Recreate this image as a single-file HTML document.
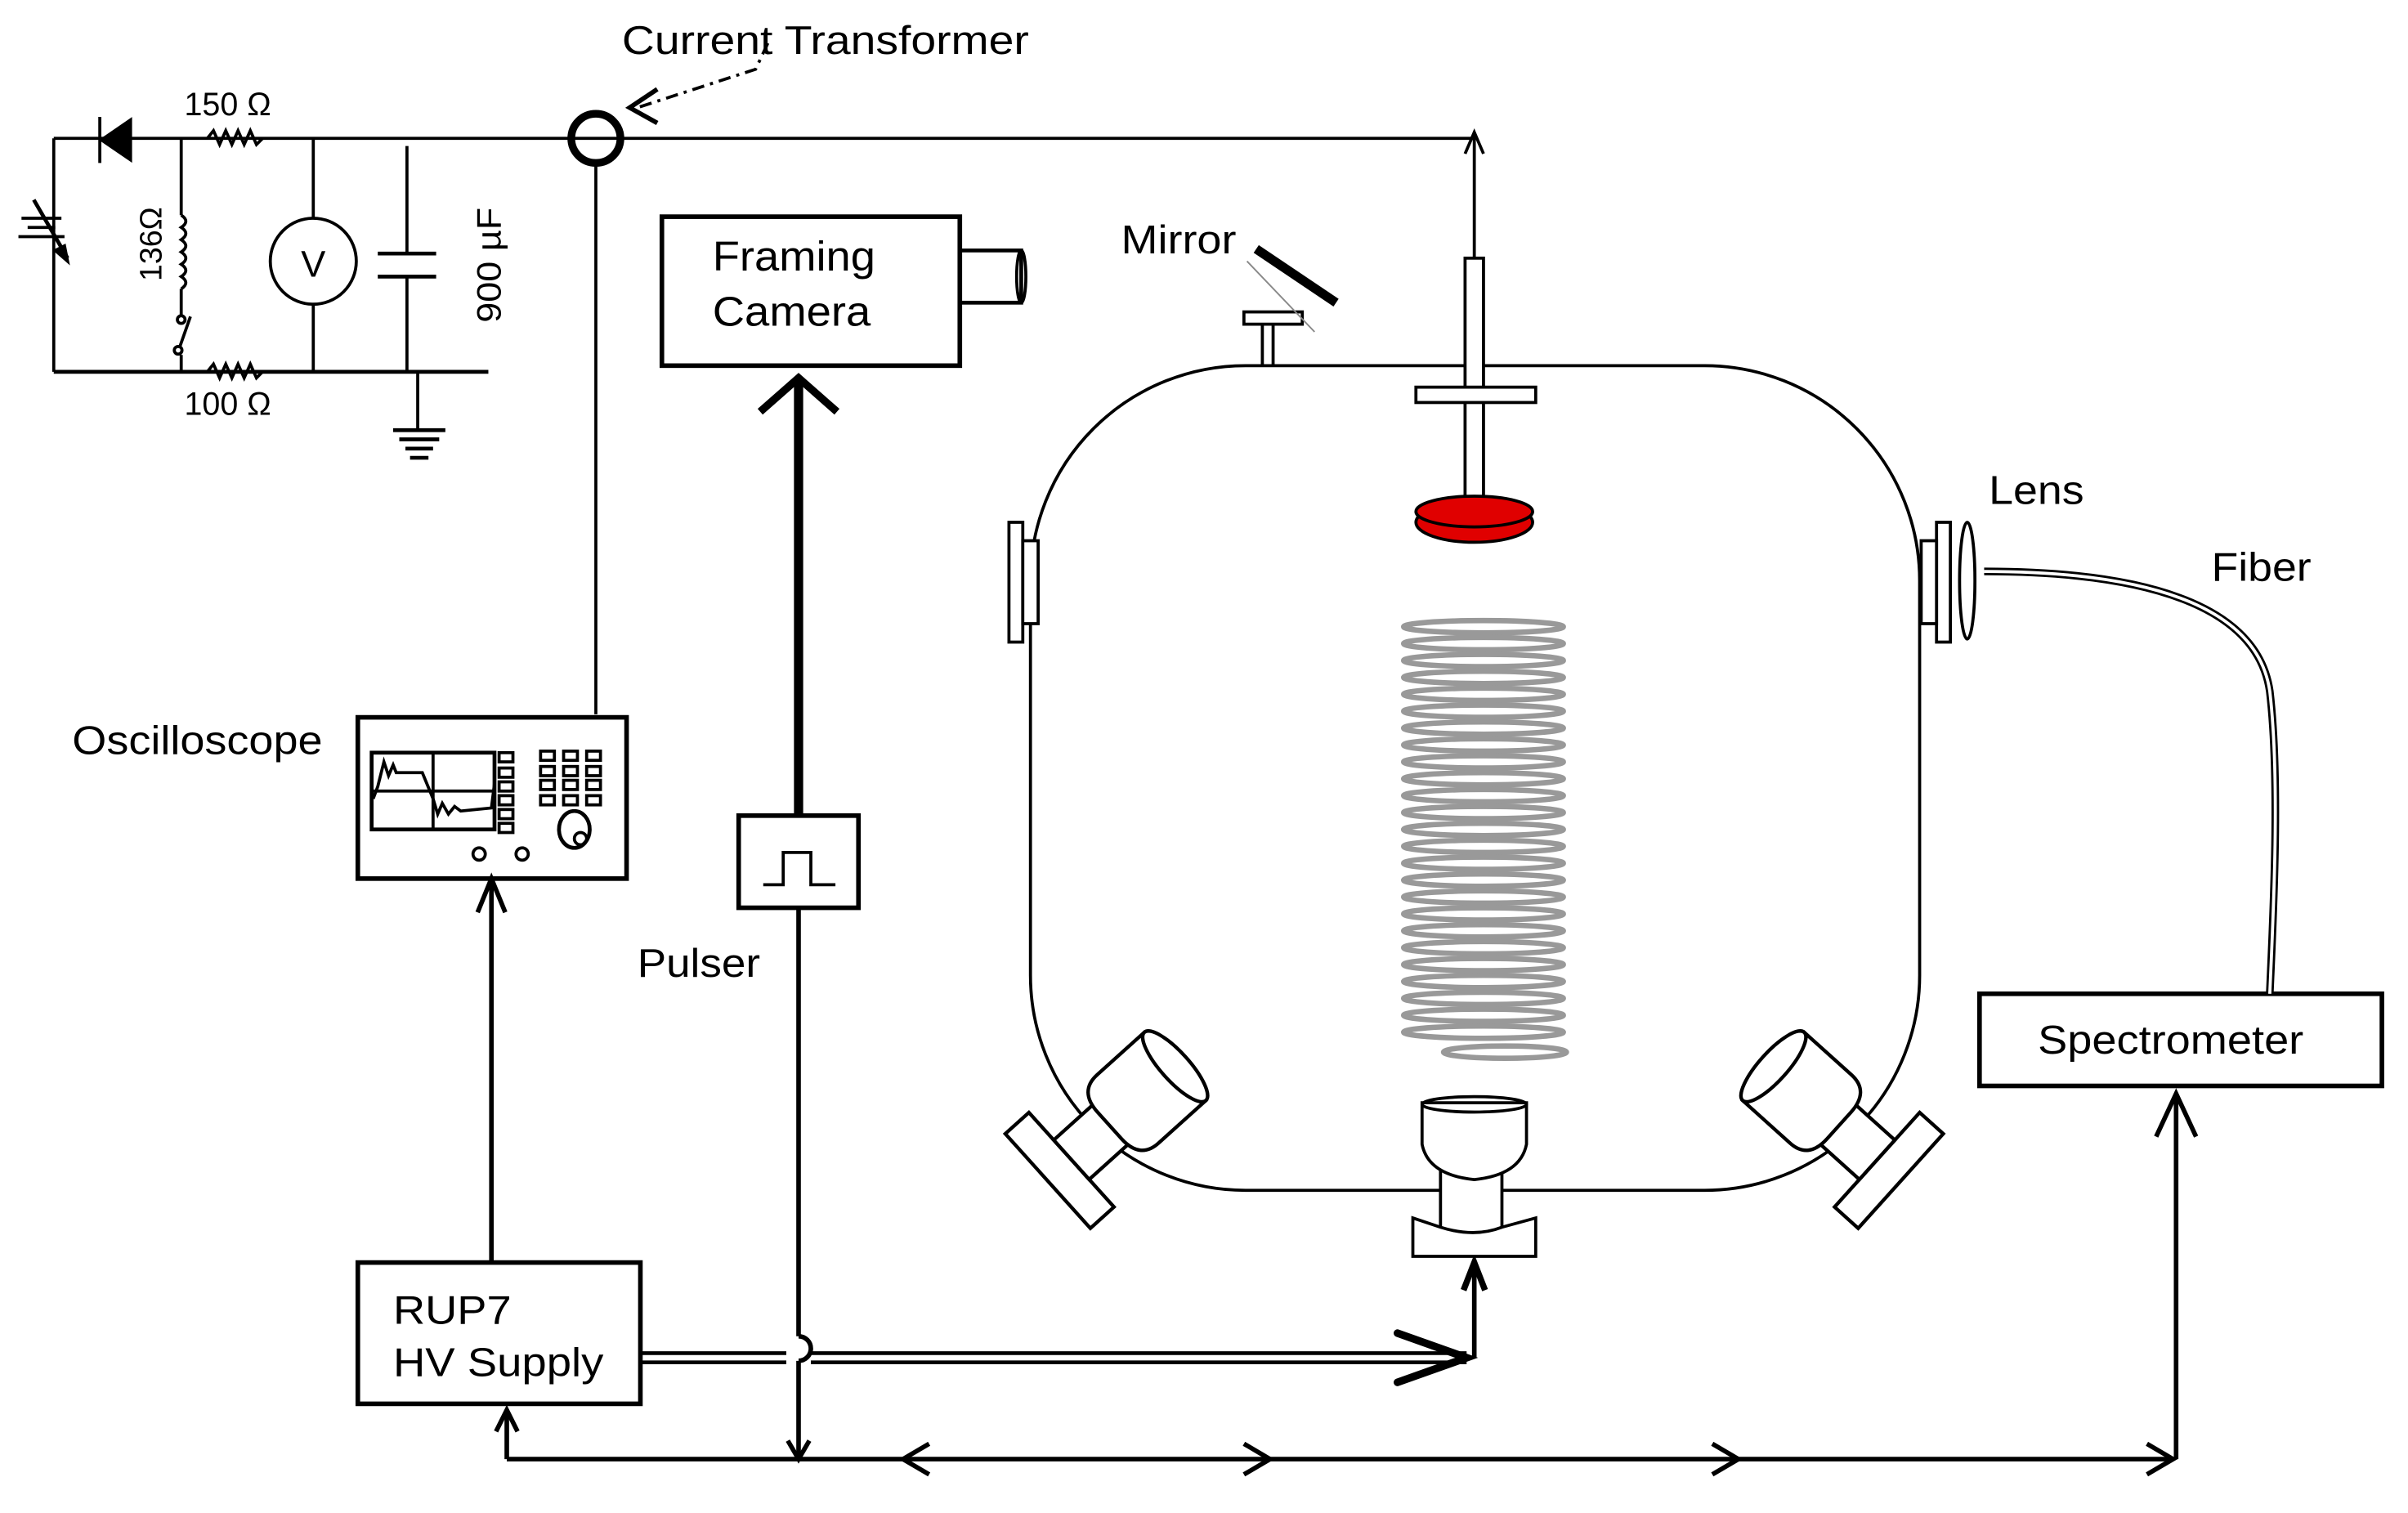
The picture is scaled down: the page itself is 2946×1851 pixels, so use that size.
<!DOCTYPE html>
<html><head><meta charset="utf-8"><style>
html,body{margin:0;padding:0;background:#fff;}
svg{display:block;}
text{font-family:"Liberation Sans",sans-serif;fill:#000;}
</style></head><body>
<svg width="2946" height="1851" viewBox="0 0 1568 985" xmlns="http://www.w3.org/2000/svg">
<g fill="none" stroke="#000" stroke-width="2">
<line x1="35" y1="90" x2="960" y2="90"/>
<line x1="35" y1="90" x2="35" y2="242"/>
<line x1="35" y1="242" x2="318" y2="242" stroke-width="2.5"/>
<polygon points="85,78 85,104 66,91" fill="#000"/>
<line x1="65" y1="76" x2="65" y2="106"/>
<path d="M135,90 l4,-5 4,9 4,-9 4,9 4,-9 4,9 4,-9 4,9 4,-4"/>
<path d="M135,242 l4,-5 4,9 4,-9 4,9 4,-9 4,9 4,-9 4,9 4,-4"/>
<line x1="118" y1="90" x2="118" y2="140"/>
<path d="M118,140 q6,4 0,8 q6,4 0,8 q6,4 0,8 q6,4 0,8 q6,4 0,8 q6,4 0,8"/>
<line x1="118" y1="188" x2="118" y2="205"/>
<circle cx="118" cy="208" r="2.5"/>
<line x1="117" y1="226" x2="124" y2="206"/>
<circle cx="116" cy="228" r="2.5"/>
<line x1="118" y1="231" x2="118" y2="242"/>
<line x1="14" y1="142" x2="40" y2="142"/>
<line x1="18" y1="148" x2="36" y2="148"/>
<line x1="12" y1="154" x2="42" y2="154"/>
<line x1="22" y1="130" x2="44" y2="168" stroke-width="2.5"/>
<polygon points="44,170 36,163 42,160" fill="#000"/>
<line x1="204" y1="90" x2="204" y2="142"/>
<circle cx="204" cy="170" r="28"/>
<line x1="204" y1="198" x2="204" y2="242"/>
<line x1="265" y1="95" x2="265" y2="165"/>
<line x1="246" y1="165" x2="284" y2="165" stroke-width="2.5"/>
<line x1="246" y1="180" x2="284" y2="180" stroke-width="2.5"/>
<line x1="265" y1="180" x2="265" y2="242"/>
<line x1="272" y1="242" x2="272" y2="280"/>
<line x1="256" y1="280" x2="290" y2="280" stroke-width="2.5"/>
<line x1="260" y1="286" x2="286" y2="286" stroke-width="2.5"/>
<line x1="264" y1="292" x2="282" y2="292" stroke-width="2.5"/>
<line x1="267" y1="298" x2="279" y2="298" stroke-width="2.5"/>
<circle cx="388" cy="90" r="16" stroke-width="5"/>
<line x1="388" y1="106" x2="388" y2="465"/>
<path d="M500,28 L492,45 L415,70" stroke-dasharray="8,4,2,4"/>
<path d="M428,58 L410,70 L428,80" stroke-width="3"/>
<line x1="960" y1="168" x2="960" y2="88"/>
<path d="M954,100 L960,86 L966,100"/>
<rect x="233" y="467" width="175" height="105" stroke-width="3"/>
<rect x="242" y="490" width="80" height="50" stroke-width="2.5"/>
<line x1="282" y1="490" x2="282" y2="540"/>
<line x1="242" y1="515" x2="322" y2="515"/>
<path d="M243,520 L246,512 L250,496 L253,505 L256,498 L258,503 L275,503 L282,520 L285,530 L288,523 L292,530 L296,525 L300,528 L320,526 L322,510"/>
<g stroke-width="2">
<rect x="325" y="490" width="9" height="6"/><rect x="325" y="500" width="9" height="6"/><rect x="325" y="509" width="9" height="6"/><rect x="325" y="518" width="9" height="6"/><rect x="325" y="527" width="9" height="6"/><rect x="325" y="536" width="9" height="6"/>
<rect x="352" y="489" width="9" height="6"/><rect x="367" y="489" width="9" height="6"/><rect x="382" y="489" width="9" height="6"/>
<rect x="352" y="499" width="9" height="6"/><rect x="367" y="499" width="9" height="6"/><rect x="382" y="499" width="9" height="6"/>
<rect x="352" y="508" width="9" height="6"/><rect x="367" y="508" width="9" height="6"/><rect x="382" y="508" width="9" height="6"/>
<rect x="352" y="518" width="9" height="6"/><rect x="367" y="518" width="9" height="6"/><rect x="382" y="518" width="9" height="6"/>
</g>
<ellipse cx="374" cy="540" rx="10" ry="12" stroke-width="2.5"/>
<circle cx="378" cy="546" r="4"/>
<circle cx="312" cy="556" r="4"/>
<circle cx="340" cy="556" r="4"/>
<rect x="431" y="141" width="194" height="97" stroke-width="3"/>
<rect x="625" y="163" width="40" height="34" stroke-width="2.5"/>
<ellipse cx="665" cy="180" rx="3" ry="17"/>
<line x1="520" y1="246" x2="520" y2="531" stroke-width="6"/>
<path d="M495,268 L520,246 L545,268" stroke-width="5"/>
<rect x="481" y="531" width="78" height="60" stroke-width="3"/>
<path d="M497,576 L510,576 L510,555 L528,555 L528,576 L544,576"/>
<line x1="520" y1="591" x2="520" y2="870" stroke-width="3"/>
<path d="M520,870 a8,8 0 0 1 0,16" stroke-width="3"/>
<line x1="520" y1="886" x2="520" y2="950" stroke-width="3"/>
<path d="M513,938 L520,950 L527,938" stroke-width="3"/>
<rect x="233" y="822" width="184" height="92" stroke-width="3"/>
<line x1="320" y1="822" x2="320" y2="572" stroke-width="3"/>
<path d="M311,594 L320,572 L329,594" stroke-width="3"/>
<line x1="417" y1="881" x2="512" y2="881" stroke-width="2.5"/>
<line x1="417" y1="887" x2="512" y2="887" stroke-width="2.5"/>
<line x1="528" y1="881" x2="955" y2="881" stroke-width="2.5"/>
<line x1="528" y1="887" x2="955" y2="887" stroke-width="2.5"/>
<path d="M910,868 L955,884 L910,900" stroke-width="5" stroke-linecap="round"/>
<line x1="960" y1="884" x2="960" y2="822" stroke-width="3"/>
<path d="M953,840 L960,822 L967,840" stroke-width="4"/>
<line x1="330" y1="950" x2="1415" y2="950" stroke-width="3"/>
<line x1="330" y1="950" x2="330" y2="918" stroke-width="3"/>
<path d="M323,932 L330,918 L337,932" stroke-width="3"/>
<path d="M605,940 L588,950 L605,960" stroke-width="3"/>
<path d="M810,940 L827,950 L810,960" stroke-width="3"/>
<path d="M1115,940 L1132,950 L1115,960" stroke-width="3"/>
<path d="M1398,940 L1415,950 L1398,960" stroke-width="3"/>
<line x1="1417" y1="950" x2="1417" y2="712" stroke-width="3"/>
<path d="M1404,740 L1417,712 L1430,740" stroke-width="3"/>
<rect x="1289" y="647" width="262" height="60" stroke-width="3"/>
<path d="M1292,372 C1400,372 1470,395 1478,450 C1485,510 1480,600 1478,647" stroke-width="5"/>
<path d="M1292,372 C1400,372 1470,395 1478,450 C1485,510 1480,600 1478,647" stroke="#fff" stroke-width="2"/>
<ellipse cx="1281" cy="378" rx="5" ry="38"/>
<rect x="671" y="238" width="579" height="537" rx="140" ry="140"/>
<rect x="657" y="340" width="9" height="78" fill="#fff"/>
<rect x="666" y="352" width="10" height="54" fill="#fff"/>
<rect x="1261" y="340" width="9" height="78" fill="#fff"/>
<rect x="1251" y="352" width="10" height="54" fill="#fff"/>
<line x1="829" y1="210" x2="829" y2="238"/>
<line x1="822" y1="210" x2="822" y2="238"/>
<rect x="810" y="203" width="38" height="8" fill="#fff"/>
<line x1="818" y1="162" x2="870" y2="197" stroke-width="6"/>
<line x1="812" y1="170" x2="856" y2="216" stroke="#888" stroke-width="1"/>
<rect x="954" y="168" width="12" height="160" fill="#fff"/>
<rect x="922" y="252" width="78" height="10" fill="#fff"/>
<ellipse cx="960" cy="340" rx="38" ry="13" fill="#e00000"/>
<ellipse cx="960" cy="333" rx="38" ry="10" fill="#e00000"/>
<g stroke="#999" stroke-width="3.5">
<ellipse cx="966" cy="408" rx="52" ry="4"/><ellipse cx="966" cy="419" rx="52" ry="4"/><ellipse cx="966" cy="430" rx="52" ry="4"/><ellipse cx="966" cy="441" rx="52" ry="4"/><ellipse cx="966" cy="452" rx="52" ry="4"/><ellipse cx="966" cy="463" rx="52" ry="4"/><ellipse cx="966" cy="474" rx="52" ry="4"/><ellipse cx="966" cy="485" rx="52" ry="4"/><ellipse cx="966" cy="496" rx="52" ry="4"/><ellipse cx="966" cy="507" rx="52" ry="4"/><ellipse cx="966" cy="518" rx="52" ry="4"/><ellipse cx="966" cy="529" rx="52" ry="4"/><ellipse cx="966" cy="540" rx="52" ry="4"/><ellipse cx="966" cy="551" rx="52" ry="4"/><ellipse cx="966" cy="562" rx="52" ry="4"/><ellipse cx="966" cy="573" rx="52" ry="4"/><ellipse cx="966" cy="584" rx="52" ry="4"/><ellipse cx="966" cy="595" rx="52" ry="4"/><ellipse cx="966" cy="606" rx="52" ry="4"/><ellipse cx="966" cy="617" rx="52" ry="4"/><ellipse cx="966" cy="628" rx="52" ry="4"/><ellipse cx="966" cy="639" rx="52" ry="4"/><ellipse cx="966" cy="650" rx="52" ry="4"/><ellipse cx="966" cy="661" rx="52" ry="4"/><ellipse cx="966" cy="672" rx="52" ry="4"/><ellipse cx="980" cy="685" rx="40" ry="4"/>
</g>
<rect x="938" y="760" width="40" height="55" fill="#fff"/>
<path d="M926,718 L926,745 Q930,765 960,768 Q990,765 994,745 L994,718 Z" fill="#fff"/>
<ellipse cx="960" cy="719" rx="34" ry="5"/>
<path d="M920,793 L938,799 Q960,806 978,799 L1000,793 L1000,818 L920,818 Z" fill="#fff"/>
<g transform="translate(690,762) rotate(-42) scale(1.15)">
<rect x="-9" y="-36" width="18" height="72" fill="#fff"/>
<rect x="9" y="-15" width="32" height="30" fill="#fff"/>
<path d="M88,-26 L52,-26 Q38,-26 38,-10 L38,10 Q38,26 52,26 L88,26 Z" fill="#fff"/>
<ellipse cx="88" cy="0" rx="8" ry="26" fill="#fff"/>
</g>
<g transform="translate(1230,762) scale(-1,1) rotate(-42) scale(1.15)">
<rect x="-9" y="-36" width="18" height="72" fill="#fff"/>
<rect x="9" y="-15" width="32" height="30" fill="#fff"/>
<path d="M88,-26 L52,-26 Q38,-26 38,-10 L38,10 Q38,26 52,26 L88,26 Z" fill="#fff"/>
<ellipse cx="88" cy="0" rx="8" ry="26" fill="#fff"/>
</g>
</g>
<text x="405" y="35" font-size="26" textLength="265" lengthAdjust="spacingAndGlyphs">Current Transformer</text>
<text x="120" y="75" font-size="21">150 Ω</text>
<text x="120" y="270" font-size="21">100 Ω</text>
<text x="204" y="180" font-size="24" text-anchor="middle">V</text>
<text transform="translate(105,183) rotate(-90)" font-size="20">136Ω</text>
<text transform="translate(326,210) rotate(-90)" font-size="22" textLength="75" lengthAdjust="spacingAndGlyphs">900 µF</text>
<text x="464" y="176" font-size="27" textLength="106" lengthAdjust="spacingAndGlyphs">Framing</text>
<text x="464" y="212" font-size="27" textLength="103" lengthAdjust="spacingAndGlyphs">Camera</text>
<text x="730" y="165" font-size="26" textLength="75" lengthAdjust="spacingAndGlyphs">Mirror</text>
<text x="47" y="491" font-size="26" textLength="163" lengthAdjust="spacingAndGlyphs">Oscilloscope</text>
<text x="415" y="636" font-size="26" textLength="80" lengthAdjust="spacingAndGlyphs">Pulser</text>
<text x="256" y="862" font-size="26" textLength="77" lengthAdjust="spacingAndGlyphs">RUP7</text>
<text x="256" y="896" font-size="26" textLength="137" lengthAdjust="spacingAndGlyphs">HV Supply</text>
<text x="1295" y="328" font-size="26" textLength="62" lengthAdjust="spacingAndGlyphs">Lens</text>
<text x="1440" y="378" font-size="26" textLength="65" lengthAdjust="spacingAndGlyphs">Fiber</text>
<text x="1327" y="686" font-size="26" textLength="173" lengthAdjust="spacingAndGlyphs">Spectrometer</text>
</svg>
</body></html>
